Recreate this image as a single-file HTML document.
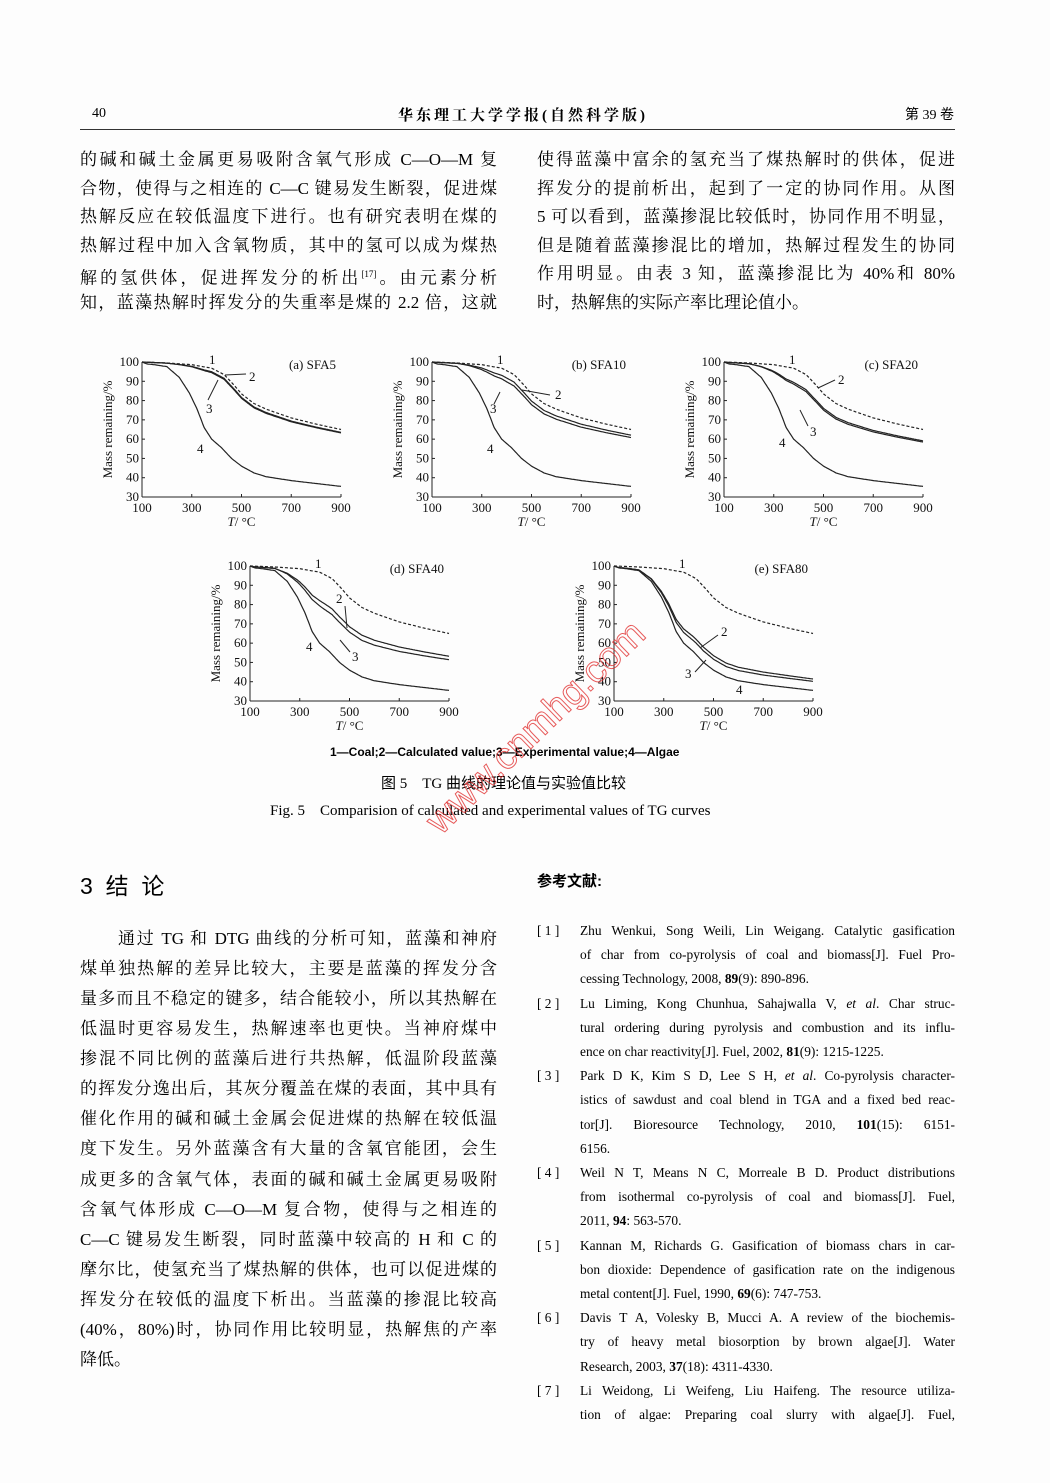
<!DOCTYPE html>
<html><head><meta charset="utf-8">
<style>
body{margin:0;background:#fff;}
#pg{position:relative;width:1050px;height:1483px;overflow:hidden;background:#fdfdfd;color:#000;font-family:"Liberation Serif","Noto Serif CJK SC",serif;}
.l{position:absolute;font-size:17px;line-height:20px;white-space:nowrap;text-align:justify;text-align-last:justify;}
.n{text-align-last:left;}
.r{position:absolute;font-size:13.4px;line-height:16px;white-space:nowrap;text-align:justify;text-align-last:justify;left:580px;width:375px;}
.rl{position:absolute;font-size:13.4px;line-height:16px;left:537px;}
.t{position:absolute;white-space:nowrap;}
svg text{font-family:"Liberation Serif",serif;fill:#111;}
</style></head><body><div id="pg">
<div class="t" style="left:92px;top:106px;font-size:14px;">40</div>
<div class="t" style="left:398px;top:104px;font-size:15px;font-weight:bold;letter-spacing:3px;font-family:'Liberation Serif','Noto Serif CJK SC',serif;">华东理工大学学报(自然科学版)</div>
<div class="t" style="left:905px;top:104px;font-size:14px;font-family:'Liberation Serif','Noto Sans CJK SC',serif;">第 39 卷</div>
<div style="position:absolute;left:80px;top:129px;width:875px;height:1px;background:#333;"></div>

<div id="txt"></div>
<svg id="ch" width="1050" height="1483" style="position:absolute;left:0;top:0"></svg>

<div class="t" style="left:330px;top:745px;font-size:12px;font-weight:bold;font-family:'Liberation Sans',sans-serif;">1—Coal;2—Calculated value;3—Experimental value;4—Algae</div>
<div class="t" style="left:381px;top:772px;font-size:15px;font-family:'Liberation Serif','Noto Sans CJK SC',serif;">图 5　TG 曲线的理论值与实验值比较</div>
<div class="t" style="left:270px;top:799px;font-size:15px;">Fig. 5　Comparision of calculated and experimental values of TG curves</div>

<div class="t" style="left:80px;top:867px;font-size:23px;font-family:'Liberation Sans','Noto Sans CJK SC',sans-serif;">3 &nbsp;结 &nbsp;论</div>
<div class="t" style="left:537px;top:870px;font-size:15px;font-weight:bold;font-family:'Liberation Sans','Noto Sans CJK SC',sans-serif;">参考文献:</div>

<div style="position:absolute;left:418px;top:812px;transform:rotate(-44deg);transform-origin:left top;font-size:38px;color:rgba(255,255,255,0);-webkit-text-stroke:1px rgba(225,50,50,0.8);font-family:'Liberation Sans',sans-serif;">www.cnmhg.com</div>
</div>
<script>
var T=document.getElementById('txt');
function L(x,y,w,s,last,ind){var d=document.createElement('div');d.className='l'+(last?' n':'');d.style.left=(x+(ind||0))+'px';d.style.top=(y-10)+'px';d.style.width=(w-(ind||0))+'px';d.innerHTML=s;T.appendChild(d);}
var lt=["的碱和碱土金属更易吸附含氧气形成 C—O—M 复","合物，使得与之相连的 C—C 键易发生断裂，促进煤","热解反应在较低温度下进行。也有研究表明在煤的","热解过程中加入含氧物质，其中的氢可以成为煤热","解的氢供体，促进挥发分的析出<sup style='font-size:9px'>[17]</sup>。由元素分析","知，蓝藻热解时挥发分的失重率是煤的 2.2 倍，这就"];
lt.forEach(function(s,i){L(80,160+i*28.6,417,s,false);});
var rt=["使得蓝藻中富余的氢充当了煤热解时的供体，促进","挥发分的提前析出，起到了一定的协同作用。从图","5 可以看到，蓝藻掺混比较低时，协同作用不明显，","但是随着蓝藻掺混比的增加，热解过程发生的协同","作用明显。由表 3 知，蓝藻掺混比为 40%和 80%","时，热解焦的实际产率比理论值小。"];
rt.forEach(function(s,i){L(537,160+i*28.6,418,s,i==5);});
var bt=["通过 TG 和 DTG 曲线的分析可知，蓝藻和神府","煤单独热解的差异比较大，主要是蓝藻的挥发分含","量多而且不稳定的键多，结合能较小，所以其热解在","低温时更容易发生，热解速率也更快。当神府煤中","掺混不同比例的蓝藻后进行共热解，低温阶段蓝藻","的挥发分逸出后，其灰分覆盖在煤的表面，其中具有","催化作用的碱和碱土金属会促进煤的热解在较低温","度下发生。另外蓝藻含有大量的含氧官能团，会生","成更多的含氧气体，表面的碱和碱土金属更易吸附","含氧气体形成 C—O—M 复合物，使得与之相连的","C—C 键易发生断裂，同时蓝藻中较高的 H 和 C 的","摩尔比，使氢充当了煤热解的供体，也可以促进煤的","挥发分在较低的温度下析出。当蓝藻的掺混比较高","(40%，80%)时，协同作用比较明显，热解焦的产率","降低。"];
bt.forEach(function(s,i){L(80,939+i*30.07,417,s,i==14,i==0?38:0);});
var refs=[["[ 1 ]","Zhu Wenkui, Song Weili, Lin Weigang. Catalytic gasification","of char from co-pyrolysis of coal and biomass[J]. Fuel Pro-","cessing Technology, 2008, <b>89</b>(9): 890-896."],
["[ 2 ]","Lu Liming, Kong Chunhua, Sahajwalla V, <i>et al</i>. Char struc-","tural ordering during pyrolysis and combustion and its influ-","ence on char reactivity[J]. Fuel, 2002, <b>81</b>(9): 1215-1225."],
["[ 3 ]","Park D K, Kim S D, Lee S H, <i>et al</i>. Co-pyrolysis character-","istics of sawdust and coal blend in TGA and a fixed bed reac-","tor[J]. Bioresource Technology, 2010, <b>101</b>(15): 6151-","6156."],
["[ 4 ]","Weil N T, Means N C, Morreale B D. Product distributions","from isothermal co-pyrolysis of coal and biomass[J]. Fuel,","2011, <b>94</b>: 563-570."],
["[ 5 ]","Kannan M, Richards G. Gasification of biomass chars in car-","bon dioxide: Dependence of gasification rate on the indigenous","metal content[J]. Fuel, 1990, <b>69</b>(6): 747-753."],
["[ 6 ]","Davis T A, Volesky B, Mucci A. A review of the biochemis-","try of heavy metal biosorption by brown algae[J]. Water","Research, 2003, <b>37</b>(18): 4311-4330."],
["[ 7 ]","Li Weidong, Li Weifeng, Liu Haifeng. The resource utiliza-","tion of algae: Preparing coal slurry with algae[J]. Fuel,"]];
var k=0;refs.forEach(function(r){var y=931+k*24.2;var d=document.createElement('div');d.className='rl';d.style.top=(y-8)+'px';d.innerHTML=r[0];T.appendChild(d);
for(var j=1;j<r.length;j++){var y2=931+k*24.2;var e=document.createElement('div');e.className='r';e.style.top=(y2-8)+'px';var last=(j==r.length-1)&&!(r[0]=="[ 7 ]");if(last)e.style.textAlignLast='left';e.innerHTML=r[j];T.appendChild(e);k++;}});

var coal=[[100,100],[200,99.5],[300,98.6],[380,96.8],[430,93.5],[470,88],[500,83.5],[550,78.5],[600,75.5],[700,71],[800,67.8],[900,65]];
var alg=[[100,100],[120,99],[150,98.6],[200,97.6],[250,92],[290,84],[320,76],[350,66],[380,60],[420,55.5],[460,50],[500,46],[550,42.5],[600,40.5],[700,38.5],[800,37],[900,35.5]];
function interp(a,t){for(var i=1;i<a.length;i++){if(t<=a[i][0]){var p=a[i-1],q=a[i];return p[1]+(q[1]-p[1])*(t-p[0])/(q[0]-p[0]);}}return a[a.length-1][1];}
function dev(t){if(t<=200)return 0;if(t<=420){var u=(t-200)/220;return u*u*(3-2*u);}return 1-0.4*(t-420)/480;}
var S=document.getElementById('ch'),out='';
function chart(x0,y0,f,kk,name,lab){
 var w=199,h=135;function X(t){return x0+(t-100)/800*w;}function Y(m){return y0+(100-m)*h/70;}
 out+='<line x1="'+x0+'" y1="'+y0+'" x2="'+x0+'" y2="'+(y0+h)+'" stroke="#222" stroke-width="1"/>';
 out+='<line x1="'+x0+'" y1="'+(y0+h)+'" x2="'+(x0+w)+'" y2="'+(y0+h)+'" stroke="#222" stroke-width="1"/>';
 for(var m=30;m<=100;m+=10){out+='<line x1="'+x0+'" y1="'+Y(m)+'" x2="'+(x0+3)+'" y2="'+Y(m)+'" stroke="#222"/>';out+='<text x="'+(x0-3)+'" y="'+(Y(m)+4)+'" font-size="13" text-anchor="end">'+m+'</text>';}
 [100,300,500,700,900].forEach(function(t){out+='<line x1="'+X(t)+'" y1="'+(y0+h)+'" x2="'+X(t)+'" y2="'+(y0+h-3)+'" stroke="#222"/>';out+='<text x="'+X(t)+'" y="'+(y0+h+15)+'" font-size="13" text-anchor="middle">'+t+'</text>';});
 out+='<text x="'+(x0+w/2)+'" y="'+(y0+h+29)+'" font-size="13" text-anchor="middle"><tspan font-style="italic">T</tspan>/ °C</text>';
 out+='<text transform="translate('+(x0-30)+','+(y0+h/2)+') rotate(-90)" font-size="13" text-anchor="middle">Mass remaining/%</text>';
 out+='<text x="'+(x0+w-5)+'" y="'+(y0+7)+'" font-size="13" text-anchor="end">'+name+'</text>';
 function path(fn,st){var p='';for(var t=100;t<=900;t+=5){p+=(t==100?'M':'L')+X(t).toFixed(1)+','+Y(fn(t)).toFixed(1);}out+='<path d="'+p+'" fill="none" stroke="#222" stroke-width="1.2" '+st+'/>';}
 path(function(t){return interp(coal,t);},'stroke-dasharray="3,2"');
 path(function(t){return interp(alg,t);},'');
 path(function(t){return (1-f)*interp(coal,t)+f*interp(alg,t);},'');
 path(function(t){return (1-f)*interp(coal,t)+f*interp(alg,t)-kk*dev(t);},'');
 lab.forEach(function(l){out+='<text x="'+l[1]+'" y="'+l[2]+'" font-size="13">'+l[0]+'</text>';});
}
chart(142,362,0.05,0.5,'(a) SFA5',[['1',209,364],['2',249,381],['3',206,413],['4',197,453]]);
chart(432,362,0.1,2,'(b) SFA10',[['1',497,364],['2',555,399],['3',490,413],['4',487,453]]);
chart(724,362,0.2,1,'(c) SFA20',[['1',789,364],['2',838,384],['3',810,436],['4',779,447]]);
chart(250,566,0.4,3,'(d) SFA40',[['1',315,568],['2',336,603],['3',352,661],['4',306,651]]);
chart(614,566,0.8,2,'(e) SFA80',[['1',679,568],['2',721,636],['3',685,678],['4',736,694]]);
out+='<line x1="225" y1="375" x2="246" y2="374" stroke="#222"/><line x1="218" y1="380" x2="208" y2="400" stroke="#222"/>';
out+='<line x1="522" y1="390" x2="550" y2="395" stroke="#222"/><line x1="500" y1="392" x2="494" y2="404" stroke="#222"/>';
out+='<line x1="818" y1="388" x2="835" y2="380" stroke="#222"/><line x1="800" y1="410" x2="808" y2="426" stroke="#222"/>';
out+='<line x1="345" y1="606" x2="347" y2="628" stroke="#222"/><line x1="340" y1="640" x2="350" y2="652" stroke="#222"/>';
out+='<line x1="700" y1="648" x2="718" y2="635" stroke="#222"/><line x1="695" y1="672" x2="706" y2="660" stroke="#222"/>';
S.innerHTML=out;
</script>
</body></html>
